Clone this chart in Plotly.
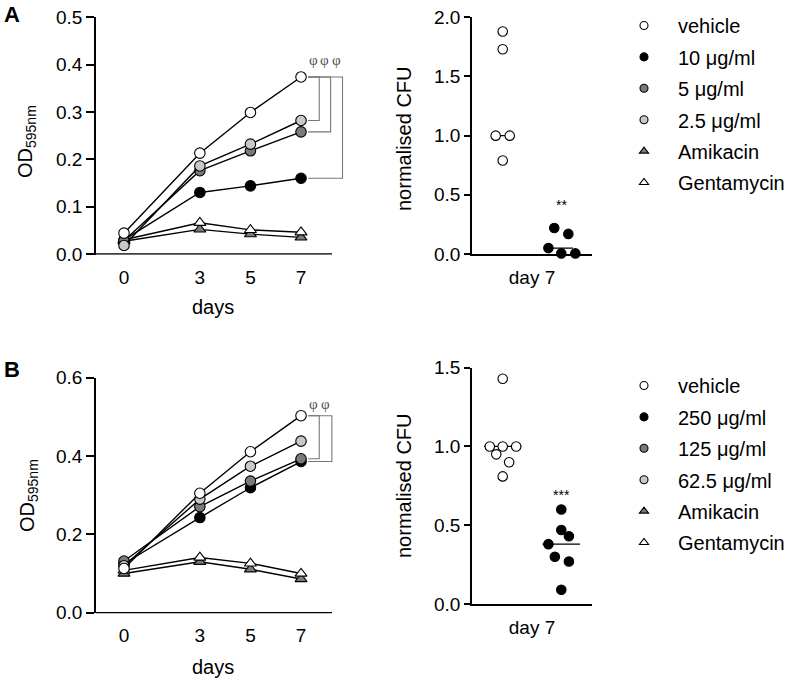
import numpy as np
import plotly.graph_objects as go

# ---------------- data ----------------
days = [0, 3, 5, 7]
day_ticks = [0, 3, 5, 7]

a_series = ["vehicle", "10 μg/ml", "5 μg/ml", "2.5 μg/ml", "Amikacin", "Gentamycin"]
a_vehicle = [0.044, 0.213, 0.299, 0.374]
a_10 = [0.030, 0.130, 0.144, 0.160]
a_5 = [0.028, 0.176, 0.218, 0.258]
a_2p5 = [0.018, 0.186, 0.232, 0.282]
a_amikacin = [0.027, 0.052, 0.042, 0.035]
a_gentamycin = [0.030, 0.066, 0.051, 0.046]

b_series = ["vehicle", "250 μg/ml", "125 μg/ml", "62.5 μg/ml", "Amikacin", "Gentamycin"]
b_vehicle = [0.113, 0.305, 0.411, 0.503]
b_250 = [0.125, 0.243, 0.319, 0.386]
b_125 = [0.132, 0.271, 0.336, 0.393]
b_62p5 = [0.120, 0.290, 0.374, 0.438]
b_amikacin = [0.100, 0.130, 0.111, 0.086]
b_gentamycin = [0.108, 0.141, 0.126, 0.100]

cfu_label = ["day 7"]
a_cfu_vehicle = [1.88, 1.73, 1.00, 1.00, 0.79]
a_cfu_vehicle_jit = [0.0, 0.0, -0.12, 0.12, 0.0]
a_cfu_treated = [0.05, 0.22, 0.17, 0.005, 0.005]
a_cfu_treated_jit = [-0.22, -0.12, 0.12, 0.0, 0.24]
b_cfu_vehicle = [1.43, 1.00, 1.00, 1.00, 0.95, 0.90, 0.81]
b_cfu_vehicle_jit = [0.0, -0.22, 0.0, 0.23, -0.11, 0.11, 0.0]
b_cfu_treated = [0.60, 0.47, 0.43, 0.38, 0.30, 0.27, 0.09]
b_cfu_treated_jit = [0.0, 0.0, 0.13, -0.22, -0.11, 0.13, 0.0]

a_stars = "**"
b_stars = "***"
phi = "φ"

# ---------------- styles ----------------
FONT = "Arial, 'Liberation Sans', sans-serif"
fills = ["white", "black", "#7a7a7a", "#c8c8c8", "#7a7a7a", "white"]
symbols = ["circle", "circle", "circle", "circle", "triangle-up", "triangle-up"]
draw_order = [4, 5, 1, 2, 3, 0]
W, H = 791, 681

def px(x):
    return x / W

def py(y):
    return 1 - y / H

fig = go.Figure()

def add_course(series_vals, names, xa, ya):
    for i in draw_order:
        fig.add_trace(go.Scatter(
            x=days, y=series_vals[i], xaxis=xa, yaxis=ya, mode="lines+markers",
            line=dict(color="black", width=1.4),
            marker=dict(symbol=symbols[i], size=10.5, color=fills[i],
                        line=dict(color="black", width=1.1)),
            cliponaxis=False, showlegend=False, name=names[i]))

add_course([a_vehicle, a_10, a_5, a_2p5, a_amikacin, a_gentamycin], a_series, "x", "y")
add_course([b_vehicle, b_250, b_125, b_62p5, b_amikacin, b_gentamycin], b_series, "x3", "y3")

def add_cfu(veh, vj, trt, tj, xa, ya, hw):
    groups = [(veh, vj, 0, "white"), (trt, tj, 1, "black")]
    for vals, jit, c, col in groups:
        med = float(np.median(vals))
        fig.add_trace(go.Scatter(x=[c - hw, c + hw], y=[med, med], xaxis=xa, yaxis=ya,
                                 mode="lines", line=dict(color="black", width=1.3),
                                 showlegend=False, cliponaxis=False))
        fig.add_trace(go.Scatter(x=[c + j for j in jit], y=vals, xaxis=xa, yaxis=ya,
                                 mode="markers", cliponaxis=False, showlegend=False,
                                 marker=dict(symbol="circle", size=9.5, color=col,
                                             line=dict(color="black", width=1.1))))

add_cfu(a_cfu_vehicle, a_cfu_vehicle_jit, a_cfu_treated, a_cfu_treated_jit, "x2", "y2", 0.2)
add_cfu(b_cfu_vehicle, b_cfu_vehicle_jit, b_cfu_treated, b_cfu_treated_jit, "x4", "y4", 0.32)

# legend entries
for names, lg in [(a_series, "legend"), (b_series, "legend2")]:
    for i, nm in enumerate(names):
        fig.add_trace(go.Scatter(
            x=[None], y=[None], mode="markers", name=nm, legend=lg,
            legendgroup=lg + str(i), xaxis="x2", yaxis="y2",
            marker=dict(symbol=symbols[i], size=8, color=fills[i],
                        line=dict(color="black", width=1.1))))

# ---------------- axes ----------------
tickfont = dict(family=FONT, size=19, color="black")
axcommon = dict(showgrid=False, zeroline=False, tickfont=tickfont, automargin=False)

left_xrange = [-1.107, 9.0]
left_xend = 8.225
XTL = 5

fig.update_layout(
    xaxis=dict(domain=[px(96), px(351.6)], range=left_xrange, anchor="y", showline=False,
               tickvals=day_ticks, ticks="outside", ticklen=XTL, tickcolor="rgba(0,0,0,0)", **axcommon),
    yaxis=dict(domain=[py(254.75), py(17.3)], range=[-0.0016, 0.5], anchor="x", showline=True,
               linecolor="black", linewidth=1.5, ticks="outside", ticklen=8, tickwidth=1.5,
               tickcolor="black", dtick=0.1, tickformat=".1f", **axcommon),
    xaxis2=dict(domain=[px(472), px(592)], range=[-0.524, 1.524], anchor="y2", showline=True,
                linecolor="black", linewidth=1.5, tickvals=[0.5], ticktext=cfu_label,
                ticks="outside", ticklen=XTL, tickcolor="rgba(0,0,0,0)", **axcommon),
    yaxis2=dict(domain=[py(254), py(17.3)], range=[0, 2], anchor="x2", showline=True,
                linecolor="black", linewidth=1.5, ticks="outside", ticklen=6, tickwidth=1.5,
                tickcolor="black", dtick=0.5, tickformat=".1f", **axcommon),
    xaxis3=dict(domain=[px(96), px(351.6)], range=left_xrange, anchor="y3", showline=False,
                tickvals=day_ticks, ticks="outside", ticklen=XTL, tickcolor="rgba(0,0,0,0)", **axcommon),
    yaxis3=dict(domain=[py(613.45), py(377.7)], range=[-0.0019, 0.6], anchor="x3", showline=True,
                linecolor="black", linewidth=1.5, ticks="outside", ticklen=8, tickwidth=1.5,
                tickcolor="black", dtick=0.2, tickformat=".1f", **axcommon),
    xaxis4=dict(domain=[px(472), px(592)], range=[-0.524, 1.524], anchor="y4", showline=True,
                linecolor="black", linewidth=1.5, tickvals=[0.5], ticktext=cfu_label,
                ticks="outside", ticklen=XTL, tickcolor="rgba(0,0,0,0)", **axcommon),
    yaxis4=dict(domain=[py(604), py(367.7)], range=[0, 1.5], anchor="x4", showline=True,
                linecolor="black", linewidth=1.5, ticks="outside", ticklen=6, tickwidth=1.5,
                tickcolor="black", dtick=0.5, tickformat=".1f", **axcommon),
)

# baselines of the time-course panels
shapes = []
for xr, yr in [("x", "y"), ("x3", "y3")]:
    shapes.append(dict(type="line", xref=xr, yref=yr, x0=left_xrange[0], x1=left_xend,
                       y0=0, y1=0, line=dict(color="black", width=1.5)))

# significance brackets
bracket_x0 = 7.28
annotations = []
def brackets(top, bottoms, xs, xr, yr, lift):
    for b, xv in zip(bottoms, xs):
        shapes.append(dict(type="path", xref=xr, yref=yr,
                           path=f"M {bracket_x0},{top} L {xv},{top} L {xv},{b} L {bracket_x0},{b}",
                           line=dict(color="#777777", width=1.1)))
        annotations.append(dict(x=xv - 0.24, y=top, xref=xr, yref=yr, text=phi, showarrow=False,
                                yshift=lift, font=dict(family="'Liberation Serif', serif", size=15, color="#555555")))

brackets(a_vehicle[-1], [a_2p5[-1], a_5[-1], a_10[-1]], [7.72, 8.17, 8.64], "x", "y", 17)
brackets(b_vehicle[-1], [b_125[-1], b_250[-1]], [7.72, 8.22], "x3", "y3", 12)

def ann(text, x, y, size=20, angle=0, bold=False, xref="paper", yref="paper"):
    annotations.append(dict(text=f"<b>{text}</b>" if bold else text, x=x, y=y, xref=xref, yref=yref,
                            showarrow=False, textangle=angle, xanchor="center", yanchor="middle",
                            font=dict(family=FONT, size=size, color="black")))

ann("A", px(12), py(15), size=22, bold=True)
ann("B", px(12), py(369), size=22, bold=True)
ann("OD<sub>595nm</sub>", px(26), py(141), angle=-90)
ann("OD<sub>595nm</sub>", px(28), py(496), angle=-90)
ann("days", px(213), py(306.5))
ann("days", px(213), py(666.5))
ann("normalised CFU", px(404), py(139), angle=-90)
ann("normalised CFU", px(404), py(486), angle=-90)
ann(a_stars, 1, 0.41, size=14, xref="x2", yref="y2")
ann(b_stars, 1, 0.69, size=14, xref="x4", yref="y4")

legend_common = dict(font=dict(family=FONT, size=20, color="black"), bgcolor="rgba(0,0,0,0)",
                     borderwidth=0, tracegroupgap=2.4, itemwidth=58, xanchor="left", yanchor="top",
                     itemclick=False)
fig.update_layout(
    template="none",
    width=W, height=H, margin=dict(l=0, r=0, t=0, b=0, autoexpand=False),
    paper_bgcolor="white", plot_bgcolor="white",
    shapes=shapes, annotations=annotations,
    legend=dict(x=px(610), y=py(6), **legend_common),
    legend2=dict(x=px(610), y=py(366), **legend_common),
    font=dict(family=FONT, color="black"),
)

fig.write_html("out.html", config={"displayModeBar": False},
               post_script="document.body.style.margin='0';")
